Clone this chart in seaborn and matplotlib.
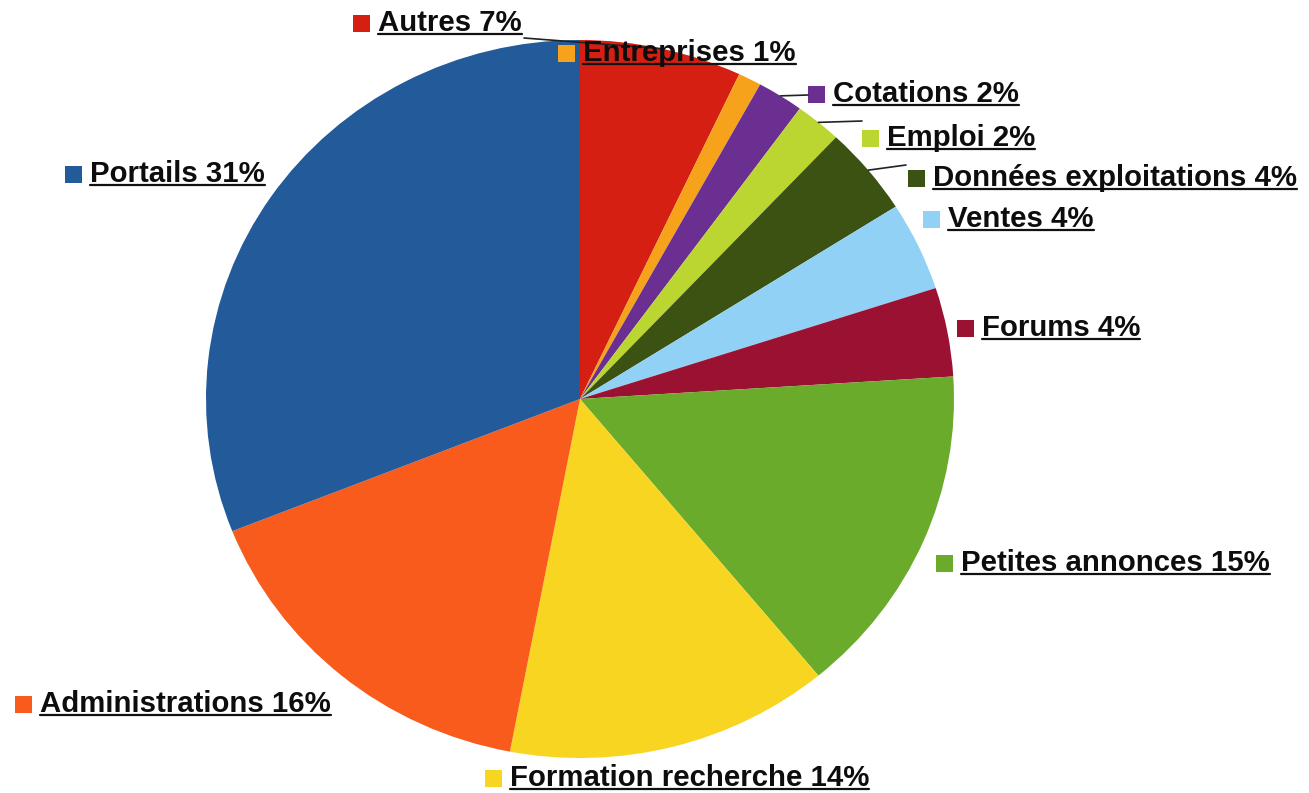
import numpy as np
import matplotlib.pyplot as plt
import matplotlib.patches as mpatches
import seaborn as sns

categories = ['Autres', 'Entreprises', 'Cotations', 'Emploi', 'Données exploitations',
              'Ventes', 'Forums', 'Petites annonces', 'Formation recherche',
              'Administrations', 'Portails']
shares = [7, 1, 2, 2, 4, 4, 4, 15, 14, 16, 31]
slice_colors = ['#D41F12', '#F6A31B', '#6B2F92', '#BBD531', '#3C5213', '#92D1F6',
                '#9B1131', '#6BAB2B', '#F8D521', '#F85B1B', '#235A99']

# label anchors, pixels from top-left : (marker left, text baseline)
label_pos = [(353, 31), (558, 61), (808, 102), (862, 146), (908, 186), (923, 227),
             (957, 336), (936, 571), (485, 786), (15, 712), (65, 182)]
# leader lines : slice index -> end of the line (pixels)
leaders = {0: (524, 38), 2: (808, 95), 3: (862, 121), 4: (906, 165)}

W, H = 1309, 793
CX, CY, RX, RY = 580, 399, 374, 359   # pie center / radii in pixels
FS = 21.2
MSIZE = 17


def fig_xy(x, y):
    # pixel (from top) -> figure fraction
    return x / W, 1 - y / H


sns.set_theme(style='white')
plt.rcParams['font.family'] = ['Liberation Sans', 'DejaVu Sans']

fig = plt.figure(figsize=(W / 100, H / 100), dpi=100)
ax = fig.add_axes([0, 0, 1, 1])
palette = sns.color_palette(slice_colors)
wedges, _ = ax.pie(shares, colors=palette, startangle=90, counterclock=False,
                   radius=1, wedgeprops=dict(linewidth=0))
ax.set_aspect('auto')
ax.set_xlim(-CX / RX, (W - CX) / RX)
ax.set_ylim(-(H - CY) / RY, CY / RY)
ax.axis('off')

texts = []
for name, val, col, (mx, by) in zip(categories, shares, palette, label_pos):
    x0, y0 = fig_xy(mx, by + 1)
    fig.add_artist(mpatches.Rectangle((x0, y0), MSIZE / W, MSIZE / H, transform=fig.transFigure,
                                      facecolor=col, edgecolor='none'))
    tx, ty = fig_xy(mx + MSIZE + 8, by)
    t = fig.text(tx, ty, f'{name} {val}%', fontsize=FS, fontweight='bold',
                 color='#0d0d0d', ha='left', va='baseline')
    texts.append((t, by))

# underline the labels
fig.canvas.draw()
renderer = fig.canvas.get_renderer()
for t, by in texts:
    bb = t.get_window_extent(renderer)
    ux0, uy = fig_xy(bb.x0, by + 3)
    ux1, _ = fig_xy(bb.x1, by + 3)
    fig.add_artist(plt.Line2D([ux0, ux1], [uy, uy], transform=fig.transFigure,
                              color='#111111', lw=1.6))

# leader lines from slice edge to label
for idx, (ex, ey) in leaders.items():
    w = wedges[idx]
    mid = np.deg2rad((w.theta1 + w.theta2) / 2)
    sx, sy = ax.transData.transform((np.cos(mid), np.sin(mid)))
    sx, sy = fig.transFigure.inverted().transform((sx, sy))
    exf, eyf = fig_xy(ex, ey)
    fig.add_artist(plt.Line2D([sx, exf], [sy, eyf], transform=fig.transFigure,
                              color='#222222', lw=1.2))

fig.savefig('out.png', dpi=100)
